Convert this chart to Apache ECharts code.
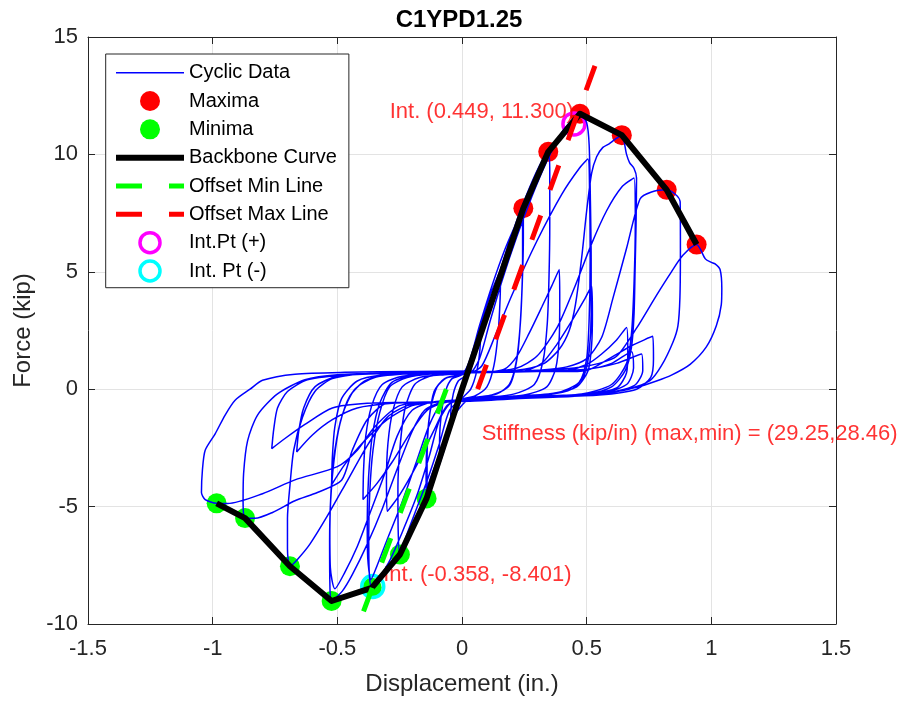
<!DOCTYPE html>
<html>
<head>
<meta charset="utf-8">
<script src="https://cdn.jsdelivr.net/npm/echarts@6/dist/echarts.min.js"></script>
<style>
  html, body { margin: 0; padding: 0; background: #ffffff; }
  #chart { width: 918px; height: 701px; }
</style>
</head>
<body>
<div id="chart"></div>
<script>
// ---- chart values -------------------------------------------------------
const chartTitle = 'C1YPD1.25';
const xName = 'Displacement (in.)';
const yName = 'Force (kip)';

// cyclic force-displacement record, one array per loading cycle [disp, force]
const loop01 = [[0,0],[0.02,0.7],[0.05,1.7],[0.075,2.5],[0.072,1.7],[0.06,0.8],[0.035,0.0],[0.0,-0.4],[-0.02,-0.9],[-0.045,-1.7],[-0.045,-1.0],[-0.035,-0.2],[-0.015,0.35],[0.01,0.55]];
const loop02 = [[0.04,1.4],[0.08,2.9],[0.12,4.2],[0.155,5.1],[0.153,3.9],[0.145,2.4],[0.128,1.0],[0.1,0.1],[0.05,-0.3],[0.0,-0.45],[-0.03,-1.2],[-0.06,-2.2],[-0.09,-3.2],[-0.09,-2.2],[-0.082,-1.0],[-0.065,-0.05],[-0.04,0.45],[0.0,0.62]];
const loop03 = [[0.03,1.2],[0.07,2.7],[0.12,4.4],[0.17,5.9],[0.21,6.9],[0.246,7.71],[0.246,6.4],[0.242,4.6],[0.234,2.8],[0.218,1.2],[0.19,0.2],[0.14,-0.2],[0.07,-0.35],[0.0,-0.45],[-0.04,-1.3],[-0.08,-2.6],[-0.115,-3.8],[-0.142,-4.65],[-0.144,-3.6],[-0.14,-2.2],[-0.127,-0.9],[-0.1,0.1],[-0.06,0.5],[0.0,0.65]];
const loop04 = [[0.035,1.0],[0.085,2.8],[0.145,4.7],[0.2,6.2],[0.243,7.2],[0.243,5.6],[0.237,3.4],[0.222,1.4],[0.19,0.15],[0.12,-0.25],[0.03,-0.4],[-0.03,-1.1],[-0.08,-2.5],[-0.12,-3.6],[-0.14,-4.2],[-0.14,-3.0],[-0.133,-1.4],[-0.112,-0.1],[-0.07,0.45],[0.01,0.65]];
const loop05 = [[0.04,1.0],[0.08,2.5],[0.14,4.6],[0.2,6.6],[0.26,8.3],[0.31,9.5],[0.346,10.11],[0.352,9.2],[0.352,7.0],[0.349,4.8],[0.342,2.8],[0.325,1.2],[0.29,0.2],[0.21,-0.2],[0.1,-0.35],[0.0,-0.45],[-0.05,-0.9],[-0.09,-2.3],[-0.14,-3.9],[-0.19,-5.3],[-0.225,-6.3],[-0.249,-7.04],[-0.256,-6.0],[-0.257,-4.2],[-0.248,-2.4],[-0.228,-0.8],[-0.19,0.2],[-0.13,0.55],[-0.05,0.66],[0.02,0.7]];
const loop06 = [[0.1,0.72],[0.17,0.85],[0.22,1.4],[0.27,2.4],[0.32,3.5],[0.36,4.4],[0.39,5.1],[0.392,3.8],[0.39,2.2],[0.376,0.9],[0.34,0.1],[0.25,-0.25],[0.12,-0.35],[0.0,-0.45],[-0.06,-0.7],[-0.11,-1.7],[-0.18,-3.2],[-0.25,-4.5],[-0.3,-5.2],[-0.303,-3.9],[-0.297,-2.3],[-0.277,-0.9],[-0.24,0.1],[-0.17,0.5],[-0.07,0.62],[0.03,0.68]];
const loop07 = [[0.07,1.3],[0.11,2.8],[0.16,4.6],[0.22,6.5],[0.28,8.2],[0.34,9.7],[0.395,10.85],[0.44,11.45],[0.473,11.73],[0.5,11.35],[0.51,10.4],[0.515,8.0],[0.518,5.5],[0.518,3.2],[0.51,1.6],[0.49,0.6],[0.44,0.0],[0.34,-0.25],[0.2,-0.35],[0.06,-0.45],[-0.04,-0.55],[-0.09,-1.3],[-0.13,-2.8],[-0.18,-4.5],[-0.24,-6.1],[-0.29,-7.3],[-0.33,-8.0],[-0.362,-8.46],[-0.372,-7.8],[-0.374,-6.2],[-0.37,-4.4],[-0.357,-2.6],[-0.33,-1.0],[-0.29,0.1],[-0.22,0.5],[-0.12,0.65],[0.04,0.72]];
const loop07b = [[0.08,1.0],[0.13,2.2],[0.2,4.0],[0.3,6.3],[0.4,8.3],[0.47,9.4],[0.505,9.8],[0.512,8.0],[0.514,5.5],[0.51,3.0],[0.5,1.3],[0.47,0.3],[0.38,-0.15],[0.2,-0.3],[0.03,-0.42],[-0.08,-0.6],[-0.13,-1.5],[-0.18,-3.0],[-0.24,-4.8],[-0.3,-6.4],[-0.34,-7.5],[-0.365,-8.1],[-0.378,-7.2],[-0.38,-5.6],[-0.375,-3.8],[-0.36,-2.0],[-0.33,-0.6],[-0.28,0.3],[-0.18,0.6],[0.03,0.7]];
const loop08 = [[0.15,0.72],[0.25,0.78],[0.32,1.1],[0.38,1.9],[0.44,2.9],[0.49,3.8],[0.52,4.4],[0.523,3.2],[0.52,1.9],[0.506,0.8],[0.46,0.1],[0.35,-0.2],[0.2,-0.33],[0.05,-0.42],[-0.06,-0.55],[-0.14,-0.9],[-0.21,-1.9],[-0.28,-3.1],[-0.34,-4.0],[-0.397,-4.7],[-0.395,-3.5],[-0.386,-2.0],[-0.362,-0.7],[-0.32,0.2],[-0.24,0.55],[-0.1,0.66],[0.05,0.72]];
const loop09 = [[0.15,0.75],[0.25,0.85],[0.33,1.1],[0.39,1.7],[0.43,2.5],[0.455,3.6],[0.48,5.6],[0.5,7.6],[0.52,9.2],[0.54,9.9],[0.565,10.3],[0.59,10.45],[0.615,10.65],[0.641,10.82],[0.66,10.0],[0.672,9.65],[0.69,9.4],[0.7,9.0],[0.698,7.0],[0.694,5.0],[0.69,3.2],[0.68,1.8],[0.655,0.8],[0.6,0.1],[0.5,-0.2],[0.35,-0.3],[0.15,-0.38],[0.02,-0.45],[-0.08,-0.55],[-0.15,-0.9],[-0.2,-1.8],[-0.26,-3.4],[-0.32,-5.1],[-0.38,-6.6],[-0.44,-7.9],[-0.48,-8.6],[-0.523,-9.02],[-0.53,-8.2],[-0.531,-6.5],[-0.527,-4.8],[-0.513,-3.0],[-0.49,-1.5],[-0.45,-0.3],[-0.39,0.35],[-0.3,0.6],[-0.15,0.7],[0.06,0.75]];
const loop09b = [[0.1,0.75],[0.22,0.9],[0.3,1.4],[0.38,2.6],[0.45,4.3],[0.52,6.2],[0.58,7.6],[0.64,8.6],[0.69,9.0],[0.695,7.0],[0.69,4.5],[0.68,2.4],[0.66,1.1],[0.6,0.2],[0.48,-0.2],[0.25,-0.33],[0.02,-0.45],[-0.12,-0.55],[-0.2,-0.9],[-0.26,-2.0],[-0.31,-3.6],[-0.37,-5.3],[-0.42,-6.7],[-0.47,-7.8],[-0.51,-8.5],[-0.528,-7.6],[-0.53,-6.0],[-0.525,-4.3],[-0.51,-2.6],[-0.48,-1.1],[-0.43,0.0],[-0.35,0.5],[-0.2,0.66],[0.06,0.74]];
const loop10 = [[0.15,0.72],[0.3,0.75],[0.42,0.8],[0.5,1.05],[0.56,1.5],[0.62,2.1],[0.66,2.63],[0.665,1.6],[0.66,0.7],[0.62,0.05],[0.5,-0.2],[0.3,-0.3],[0.1,-0.4],[0.0,-0.5],[-0.1,-0.55],[-0.2,-0.7],[-0.3,-1.3],[-0.4,-2.3],[-0.47,-3.2],[-0.523,-4.07],[-0.52,-2.9],[-0.51,-1.6],[-0.483,-0.4],[-0.42,0.35],[-0.32,0.6],[-0.15,0.68],[0.07,0.72]];
const loop11 = [[0.2,0.76],[0.32,0.82],[0.42,0.95],[0.5,1.3],[0.56,2.2],[0.606,3.9],[0.66,6.0],[0.714,8.1],[0.76,8.4],[0.821,8.49],[0.862,8.24],[0.875,7.98],[0.876,6.0],[0.874,3.9],[0.866,2.7],[0.846,2.0],[0.8,1.0],[0.754,0.37],[0.65,-0.05],[0.45,-0.3],[0.2,-0.4],[0.0,-0.5],[-0.12,-0.55],[-0.22,-0.7],[-0.3,-1.2],[-0.38,-2.4],[-0.46,-3.9],[-0.54,-5.4],[-0.61,-6.6],[-0.66,-7.25],[-0.69,-7.54],[-0.7,-6.8],[-0.7,-5.5],[-0.69,-4.1],[-0.675,-2.6],[-0.64,-1.2],[-0.59,-0.1],[-0.52,0.45],[-0.4,0.65],[-0.15,0.72],[0.1,0.75]];
const loop12 = [[0.25,0.78],[0.4,0.75],[0.5,0.8],[0.59,1.3],[0.68,1.85],[0.765,2.25],[0.768,1.3],[0.757,0.5],[0.7,0.0],[0.55,-0.25],[0.3,-0.35],[0.05,-0.5],[-0.12,-0.55],[-0.28,-0.6],[-0.42,-0.8],[-0.52,-1.3],[-0.6,-1.95],[-0.663,-2.67],[-0.655,-1.8],[-0.635,-0.8],[-0.59,0.1],[-0.5,0.55],[-0.32,0.66],[0.1,0.73]];
const loop13 = [[0.3,0.8],[0.45,0.9],[0.55,1.1],[0.62,1.4],[0.7,2.6],[0.78,4.0],[0.84,5.0],[0.886,5.7],[0.941,6.16],[0.976,5.55],[1.0,5.4],[1.015,5.34],[1.035,5.1],[1.042,4.3],[1.04,3.6],[1.02,2.7],[0.98,1.8],[0.915,1.06],[0.84,0.6],[0.78,0.35],[0.7,0.08],[0.55,-0.2],[0.3,-0.35],[0.05,-0.5],[-0.15,-0.55],[-0.3,-0.6],[-0.38,-1.3],[-0.44,-2.6],[-0.483,-3.88],[-0.58,-4.4],[-0.67,-4.75],[-0.76,-5.25],[-0.83,-5.5],[-0.87,-5.49],[-0.878,-4.8],[-0.876,-3.6],[-0.86,-2.2],[-0.82,-1.1],[-0.74,-0.2],[-0.63,0.4],[-0.5,0.62],[-0.25,0.7],[0.1,0.75]];
const loop14 = [[0.3,0.78],[0.5,0.85],[0.6,1.1],[0.68,1.6],[0.688,0.9],[0.66,0.2],[0.55,-0.2],[0.3,-0.35],[0.05,-0.5],[-0.15,-0.55],[-0.38,-0.6],[-0.52,-0.8],[-0.63,-1.5],[-0.71,-2.1],[-0.763,-2.53],[-0.755,-1.7],[-0.74,-0.8],[-0.7,-0.1],[-0.62,0.4],[-0.45,0.62],[-0.15,0.7],[0.1,0.74]];
const loop15 = [[0.3,0.78],[0.5,0.85],[0.62,1.1],[0.72,1.5],[0.725,0.8],[0.69,0.15],[0.55,-0.2],[0.3,-0.35],[0.05,-0.5],[-0.1,-0.55],[-0.25,-0.7],[-0.35,-1.6],[-0.42,-2.6],[-0.5,-3.3],[-0.67,-3.86],[-0.8,-4.45],[-0.94,-4.87],[-0.984,-4.86],[-1.03,-4.7],[-1.045,-4.4],[-1.041,-3.43],[-1.03,-2.6],[-0.99,-1.9],[-0.95,-1.1],[-0.91,-0.47],[-0.85,0.0],[-0.8,0.38],[-0.67,0.64],[-0.47,0.72],[-0.2,0.75],[0.05,0.77]];

// cycle peaks
const maxima = [[0.246,7.71],[0.346,10.11],[0.473,11.73],[0.641,10.82],[0.821,8.49],[0.941,6.16]];
const minima = [[-0.984,-4.86],[-0.87,-5.49],[-0.69,-7.54],[-0.523,-9.02],[-0.362,-8.46],[-0.249,-7.04],[-0.142,-4.65]];
const origin = [[0,0]];

// offset stiffness lines and their intersection points
const offsetMinLine = [[-0.0628,0],[-0.395,-9.46]];
const offsetMaxLine = [[0.0627,0],[0.541,14.0]];
const intPos = [[0.449,11.3]];
const intNeg = [[-0.358,-8.401]];

// annotation texts: [x, y, text, side]
const notes = [
  [0.449, 11.8, 'Int. (0.449, 11.300)', 'left'],
  [-0.316, -7.89, 'Int. (-0.358, -8.401)', 'right'],
  [0.079, -1.91, 'Stiffness (kip/in) (max,min) = (29.25,28.46)', 'right']
];

const xRange = [-1.5, 1.5, 0.5];
const yRange = [-10, 15, 5];

const legendNames = ['Cyclic Data','Maxima','Minima','Backbone Curve','Offset Min Line','Offset Max Line','Int.Pt (+)','Int. Pt (-)'];

// ---- assembly -----------------------------------------------------------
const cyclicData = [].concat(loop01, loop02, loop03, loop04, loop05, loop06, loop07, loop07b,
  loop08, loop09, loop09b, loop10, loop11, loop12, loop13, loop14, loop15);
const backbone = minima.concat(origin, maxima);

const FONT = '"Liberation Sans", Arial, Helvetica, sans-serif';
const AXIS_COLOR = '#262626';
const DASH = [26, 27];

function xAxisDef(pos, showLabel) {
  return {
    type: 'value', position: pos, min: xRange[0], max: xRange[1], interval: xRange[2],
    axisLine: { show: true, onZero: false, lineStyle: { color: AXIS_COLOR, width: 1 } },
    axisTick: { show: true, inside: true, length: 7, lineStyle: { color: AXIS_COLOR, width: 1 } },
    axisLabel: { show: showLabel, color: AXIS_COLOR, fontSize: 22, fontFamily: FONT, margin: 14 },
    splitLine: { show: showLabel, lineStyle: { color: '#e3e3e3', width: 1 } },
    name: showLabel ? xName : '', nameLocation: 'middle', nameGap: 48,
    nameTextStyle: { color: AXIS_COLOR, fontSize: 24, fontFamily: FONT }
  };
}
function yAxisDef(pos, showLabel) {
  return {
    type: 'value', position: pos, min: yRange[0], max: yRange[1], interval: yRange[2],
    axisLine: { show: true, onZero: false, lineStyle: { color: AXIS_COLOR, width: 1 } },
    axisTick: { show: true, inside: true, length: 7, lineStyle: { color: AXIS_COLOR, width: 1 } },
    axisLabel: { show: showLabel, color: AXIS_COLOR, fontSize: 22, fontFamily: FONT, margin: 10 },
    splitLine: { show: showLabel, lineStyle: { color: '#e3e3e3', width: 1 } },
    name: showLabel ? yName : '', nameLocation: 'middle', nameGap: 41,
    nameTextStyle: { color: AXIS_COLOR, fontSize: 24, fontFamily: FONT }
  };
}

const chart = echarts.init(document.getElementById('chart'), null, { renderer: 'canvas' });

const hideSymbol = { opacity: 0 };

chart.setOption({
  animation: false,
  backgroundColor: '#ffffff',
  title: {
    text: chartTitle, left: 'center', top: 3,
    textStyle: { fontSize: 24, fontWeight: 'bold', color: '#000000', fontFamily: FONT }
  },
  grid: { left: 88, right: 82, top: 37, bottom: 73, containLabel: false },
  xAxis: [xAxisDef('bottom', true), xAxisDef('top', false)],
  yAxis: [yAxisDef('left', true), yAxisDef('right', false)],
  legend: {
    orient: 'vertical', left: 105.7, top: 54,
    padding: [6.7, 12, 4.7, 7.3],
    itemWidth: 68, itemHeight: 20, itemGap: 4.33,
    backgroundColor: '#ffffff', borderColor: AXIS_COLOR, borderWidth: 1,
    textStyle: { fontSize: 20, lineHeight: 24, color: '#000000', fontFamily: FONT },
    selectedMode: false,
    data: [
      { name: legendNames[0], lineStyle: { width: 1.5 }, itemStyle: hideSymbol },
      { name: legendNames[1] },
      { name: legendNames[2] },
      { name: legendNames[3], lineStyle: { width: 6 }, itemStyle: hideSymbol },
      { name: legendNames[4], lineStyle: { width: 5 }, itemStyle: hideSymbol },
      { name: legendNames[5], lineStyle: { width: 5 }, itemStyle: hideSymbol },
      { name: legendNames[6], itemStyle: { borderWidth: 3.5 } },
      { name: legendNames[7], itemStyle: { borderWidth: 3.5 } }
    ]
  },
  series: [
    {
      name: legendNames[0], type: 'line', data: cyclicData, symbol: 'none',
      smooth: 0.25, clip: true,
      lineStyle: { color: '#0000ff', width: 1.5 }, itemStyle: { color: '#0000ff' }
    },
    {
      name: legendNames[1], type: 'scatter', data: maxima, symbol: 'circle', symbolSize: 20,
      itemStyle: { color: '#ff0000', opacity: 1 }
    },
    {
      name: legendNames[2], type: 'scatter', data: minima, symbol: 'circle', symbolSize: 20,
      itemStyle: { color: '#00ff00', opacity: 1 }
    },
    {
      name: legendNames[3], type: 'line', data: backbone, symbol: 'none',
      lineStyle: { color: '#000000', width: 6, join: 'round' }, itemStyle: { color: '#000000' }
    },
    {
      name: legendNames[4], type: 'line', data: offsetMinLine, symbol: 'none',
      lineStyle: { color: '#00ff00', width: 5, type: DASH, cap: 'butt' }, itemStyle: { color: '#00ff00' }
    },
    {
      name: legendNames[5], type: 'line', data: offsetMaxLine, symbol: 'none',
      lineStyle: { color: '#ff0000', width: 5, type: DASH, cap: 'butt' }, itemStyle: { color: '#ff0000' }
    },
    {
      name: legendNames[6], type: 'scatter', data: intPos, symbol: 'circle', symbolSize: 22,
      itemStyle: { color: 'rgba(0,0,0,0)', borderColor: '#ff00ff', borderWidth: 3.5, opacity: 1 }
    },
    {
      name: legendNames[7], type: 'scatter', data: intNeg, symbol: 'circle', symbolSize: 22,
      itemStyle: { color: 'rgba(0,0,0,0)', borderColor: '#00ffff', borderWidth: 3.5, opacity: 1 }
    },
    {
      name: 'notes', type: 'scatter', silent: true, symbolSize: 0,
      data: notes.map(n => ({ value: [n[0], n[1]], label: { position: n[3] } })),
      label: {
        show: true, distance: 0, color: '#ff0000', fontSize: 22, fontFamily: FONT,
        formatter: p => notes[p.dataIndex][2]
      }
    }
  ]
});
</script>
</body>
</html>
